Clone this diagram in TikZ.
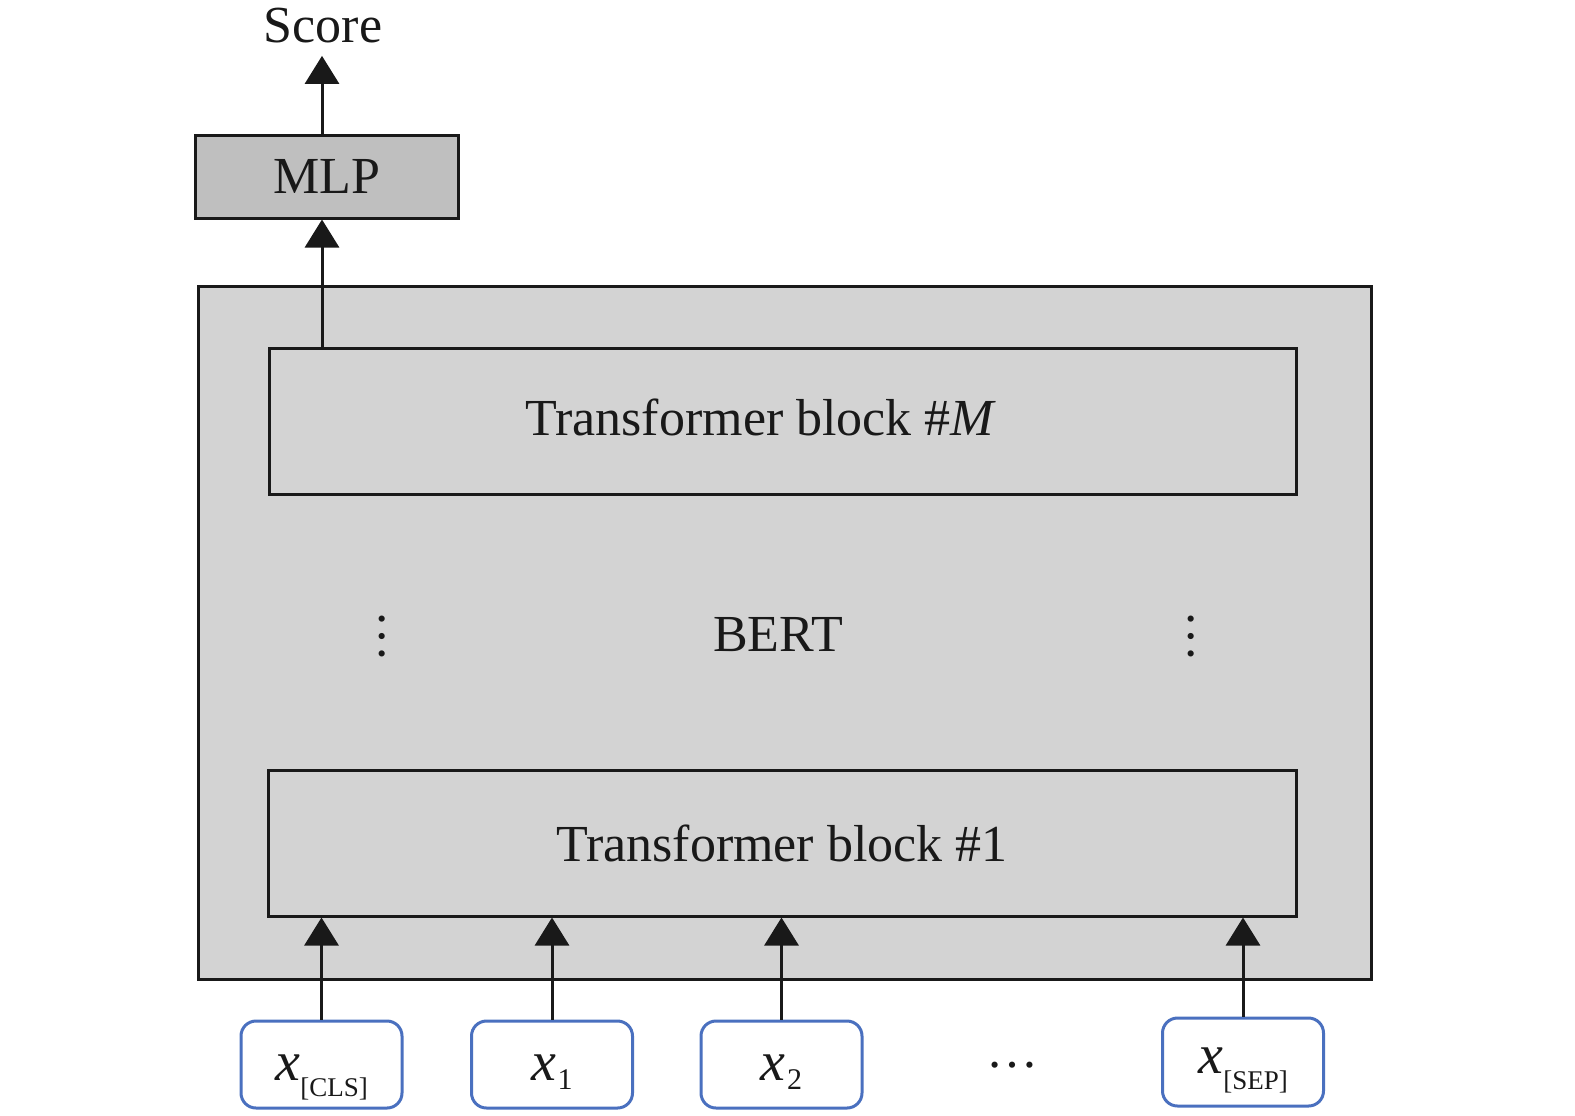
\documentclass[tikz,border=0pt]{standalone}
\usepackage{fontspec}
\setmainfont{Liberation Serif}
\usetikzlibrary{arrows.meta}
\definecolor{bertgray}{HTML}{D3D3D3}
\definecolor{mlpgray}{HTML}{BFBFBF}
\definecolor{inblue}{HTML}{4A70BF}
\newcommand{\tokx}[1]{{\fontsize{28pt}{32pt}\selectfont\textit{x}}\kern0.3pt\raisebox{-8pt}{\fontsize{13.5pt}{16pt}\selectfont #1}}
\newcommand{\tokn}[1]{{\fontsize{28pt}{32pt}\selectfont\textit{x}}\kern0.8pt\raisebox{-4.5pt}{\fontsize{15pt}{17pt}\selectfont #1}}
\tikzset{
  base/.style={font=\fontsize{26pt}{30pt}\selectfont, text=black!90},
  blockbox/.style={base, draw=black!90, line width=1.5pt, rectangle, inner sep=0pt},
  inbox/.style={base, draw=inblue, line width=1.5pt, fill=white, rounded corners=7.5pt, inner sep=0pt,
                minimum width=80.5pt, minimum height=43.5pt, text height=27.5pt, text depth=12pt},
  arr/.style={draw=black!90, line width=1.5pt, -{Triangle[length=14pt,width=17pt]}},
}
\begin{document}
\begin{tikzpicture}[x=0.5pt,y=-0.5pt]
\useasboundingbox (0,0) rectangle (1575,1115);
\node[blockbox, fill=bertgray, minimum width=586.5pt, minimum height=346.5pt] (bert) at (784.5,632.5) {};
\node[base] (bertlabel) at (778,635) {BERT};
\node[blockbox, minimum width=513.5pt, minimum height=73pt] (blkM) at (782.5,421) {};
\node[base, anchor=base] (blkMlabel) at (761,435) {Transformer block \#\textit{M}};
\node[blockbox, minimum width=514pt, minimum height=73pt] (blk1) at (782,843) {Transformer block \#1};
\node[blockbox, fill=mlpgray, minimum width=131.5pt, minimum height=41.5pt] (mlp) at (326.5,176.5) {MLP};
\node[base, inner sep=0pt] (score) at (323,26) {Score};
\node[base, rotate=90] (vdl) at (382,636) {…};
\node[base, rotate=90] (vdr) at (1191,636) {…};
\node[base, anchor=base] (hd) at (1012,1067) {…};
\node[inbox] (cls) at (321.5,1064.5) {\tokx{[CLS]}};
\node[inbox] (x1) at (552,1064.5) {\tokn{1}};
\node[inbox] (x2) at (781.5,1064.5) {\tokn{2}};
\node[inbox, minimum height=44pt, text height=25pt, text depth=14pt] (sep) at (1243,1062) {\tokx{[SEP]}};
\coordinate (mlpin) at (322,0);
\draw[arr] (cls.north) -- (cls.north |- blk1.south);
\draw[arr] (x1.north) -- (x1.north |- blk1.south);
\draw[arr] (x2.north) -- (x2.north |- blk1.south);
\draw[arr] (sep.north) -- (sep.north |- blk1.south);
\draw[arr] (mlpin |- blkM.north) -- (mlpin |- mlp.south);
\draw[arr, shorten >=6pt] (mlpin |- mlp.north) -- (mlpin |- score.south);
\end{tikzpicture}
\end{document}
